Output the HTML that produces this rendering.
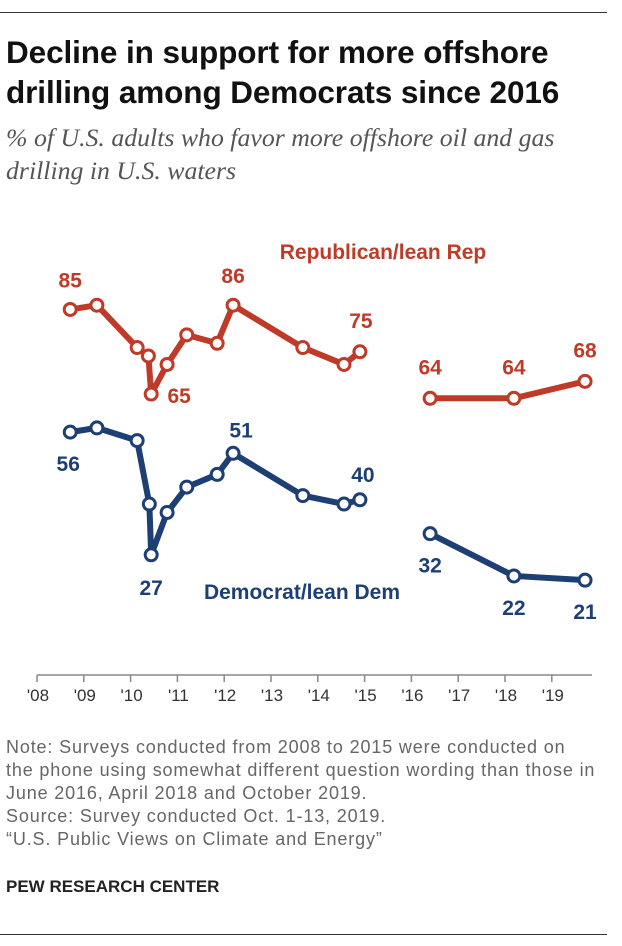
<!DOCTYPE html>
<html><head><meta charset="utf-8"><style>
body{margin:0;background:#fff;width:622px;height:946px;overflow:hidden;font-family:"Liberation Sans",sans-serif;}
.t{position:absolute;left:6px;font-weight:bold;font-size:31.5px;color:#111;line-height:40px;letter-spacing:-0.1px;}
.s{position:absolute;left:6px;font-family:"Liberation Serif",serif;font-style:italic;font-size:25.8px;color:#555;line-height:33px;}
.n{position:absolute;left:6px;font-size:18px;color:#666;line-height:23px;letter-spacing:0.85px;}
</style></head><body>
<div style="position:absolute;left:0;top:12px;width:607px;height:1px;background:#333"></div>
<div class="t" style="top:32px">Decline in support for more offshore<br>drilling among Democrats since 2016</div>
<div class="s" style="top:121px">% of U.S. adults who favor more offshore oil and gas<br>drilling in U.S. waters</div>
<svg width="622" height="946" style="position:absolute;left:0;top:0" id="chart"></svg>
<div class="n" style="top:736px;white-space:nowrap">Note: Surveys conducted from 2008 to 2015 were conducted on<br>the phone using somewhat different question wording than those in<br>June 2016, April 2018 and October 2019.<br>Source: Survey conducted Oct. 1-13, 2019.<br>“U.S. Public Views on Climate and Energy”</div>
<div style="position:absolute;left:6px;top:877px;font-weight:bold;font-size:17px;color:#222">PEW RESEARCH CENTER</div>
<div style="position:absolute;left:0;top:934px;width:607px;height:1px;background:#333"></div>
<script>
const yearTicks=["'08","'09","'10","'11","'12","'13","'14","'15","'16","'17","'18","'19"];
const repDates1=[2008.71,2009.28,2010.14,2010.38,2010.44,2010.78,2011.2,2011.85,2012.19,2013.68,2014.56,2014.9];
const repVals1=[85,86,76,74,65,72,79,77,86,76,72,75];
const demDates1=[2008.71,2009.28,2010.14,2010.4,2010.44,2010.78,2011.2,2011.85,2012.19,2013.68,2014.56,2014.9];
const demVals1=[56,57,54,39,27,37,43,46,51,41,39,40];
const dates2=[2016.4,2018.19,2019.71];
const repVals2=[64,64,68];
const demVals2=[32,22,21];
const NS='http://www.w3.org/2000/svg';
const svg=document.getElementById('chart');
const X=y=>37+(y-2008)*46.8;
const Y=v=>669-v*4.23;
function mk(t,a){const e=document.createElementNS(NS,t);for(const k in a)e.setAttribute(k,a[k]);svg.appendChild(e);return e;}
let ax=mk('line',{x1:37,y1:675,x2:592,y2:675,stroke:'#888','stroke-width':1.5});


yearTicks.forEach((l,i)=>{
 let tk=mk('line',{x1:X(2008+i),x2:X(2008+i),y1:675,y2:682,stroke:'#888','stroke-width':1.5});
 
 
 let t=mk('text',{x:X(2008+i)+1,y:701,'text-anchor':'middle','font-size':17,fill:'#333'});
 t.textContent=l;
 
 
});
function series(d,v,c,name){
 let p=mk('polyline',{points:d.map((x,i)=>X(x)+','+Y(v[i])).join(' '),fill:'none',stroke:c,'stroke-width':6,'stroke-linejoin':'round'});
 
 
 d.forEach((x,i)=>{let m=mk('circle',{cx:X(x),cy:Y(v[i]),r:6,fill:'#fff',stroke:c,'stroke-width':3});
 
 });
}
const R='#bf3a28',B='#1e3f73';
series(repDates1,repVals1,R,'rep');series(dates2,repVals2,R,'rep');
series(demDates1,demVals1,B,'dem');series(dates2,demVals2,B,'dem');
function lab(txt,x,y,c,name,anchor){let t=mk('text',{x:x,y:y,'text-anchor':anchor||'middle','font-size':21,'font-weight':'bold',fill:c});t.textContent=txt;
 
 }
lab(repVals1[0],X(repDates1[0]),Y(repVals1[0])-22,R,'value-label');
lab(repVals1[8],X(repDates1[8]),Y(repVals1[8])-22,R,'value-label');
lab(repVals1[11],X(repDates1[11])+1,Y(repVals1[11])-24,R,'value-label');
lab(repVals1[4],X(repDates1[4])+28,Y(repVals1[4])+9,R,'value-label');
dates2.forEach((d,i)=>lab(repVals2[i],X(d),Y(repVals2[i])-24,R,'value-label'));
lab(demVals1[0],X(demDates1[0])-2,Y(demVals1[0])+39,B,'value-label');
lab(demVals1[8],X(demDates1[8])+8,Y(demVals1[8])-16,B,'value-label');
lab(demVals1[11],X(demDates1[11])+3,Y(demVals1[11])-18,B,'value-label');
lab(demVals1[4],X(demDates1[4]),Y(demVals1[4])+40,B,'value-label');
lab(demVals2[0],X(dates2[0]),Y(demVals2[0])+39,B,'value-label');
dates2.slice(1).forEach((d,i)=>lab(demVals2[i+1],X(d),Y(demVals2[i+1])+39,B,'value-label'));
lab('Republican/lean Rep',383,259,R,'rep-series-label');
lab('Democrat/lean Dem',302,599,B,'dem-series-label');
</script>
</body></html>
